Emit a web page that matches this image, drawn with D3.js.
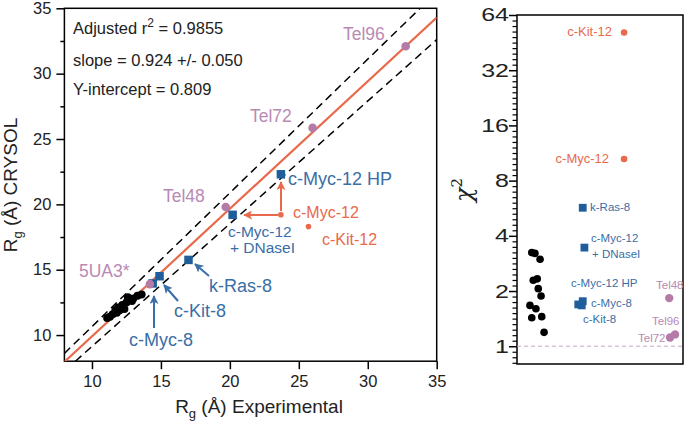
<!DOCTYPE html>
<html><head><meta charset="utf-8">
<script src="https://cdn.jsdelivr.net/npm/d3@7"></script>
<style>
html,body{margin:0;padding:0;background:#fff;}
svg{display:block;font-family:"Liberation Sans",Arial,sans-serif;}
</style></head>
<body>
<svg id="chart" width="693" height="422"></svg>
<script>
// ---------------- DATA ----------------
// Left panel: Rg experimental vs Rg CRYSOL (Å)
const xTicks = [10, 15, 20, 25, 30, 35];
const yTicks = [10, 15, 20, 25, 30, 35];
const yMinorTicks = [12.5, 17.5, 22.5, 27.5, 32.5];

const blackExp = [11.1, 11.3, 11.5, 11.7, 11.9, 12.0, 12.2, 12.35, 12.5, 12.7, 12.9, 13.0, 13.3, 13.6, 11.8, 12.6];
const blackCry = [11.3, 11.4, 11.6, 11.9, 12.1, 11.9, 12.3, 12.0, 12.5, 12.7, 12.6, 12.8, 13.0, 13.1, 11.7, 12.9];

const blueNames = ["c-Myc-8", "c-Kit-8", "k-Ras-8", "c-Myc-12 + DNaseI", "c-Myc-12 HP"];
const blueExp = [14.4, 14.9, 17.0, 20.2, 23.7];
const blueCry = [13.95, 14.5, 15.75, 19.2, 22.3];

const pinkNames = ["5UA3*", "Tel48", "Tel72", "Tel96"];
const pinkExp = [14.2, 19.7, 26.0, 32.75];
const pinkCry = [13.9, 19.8, 25.85, 32.1];

const redNames = ["c-Myc-12", "c-Kit-12"];
const redExp = [23.7, 25.7];
const redCry = [19.2, 18.3];

// fit line and bounds (endpoints, Å)
const fitLineX = [8, 35], fitLineY = [7.95, 34.3];
const upperX = [8, 33.8], upperY = [8.6, 35];
const lowerX = [8.8, 35], lowerY = [8, 32.6];

const statLines = ["Adjusted r", "slope = 0.924 +/- 0.050", "Y-intercept = 0.809"];

// Right panel: chi^2 (log2 scale)
const chiTicks = [1, 2, 4, 8, 16, 32, 64];
const blackChiPos = [0.89, 1.08, 1.39, 0.98, 1.22, 1.28, 1.45, 0.78, 1.14, 0.89, 1.49, 1.63];
const blackChi = [3.24, 3.21, 2.98, 2.29, 2.33, 2.06, 1.88, 1.67, 1.60, 1.43, 1.45, 1.19];
const blueChiNames = ["k-Ras-8", "c-Myc-12 + DNaseI", "c-Myc-12 HP", "c-Myc-8", "c-Kit-8"];
const blueChiPos = [3.96, 4.06, 3.96, 3.69, 3.90];
const blueChi = [5.69, 3.45, 1.76, 1.69, 1.67];
const redChiNames = ["c-Kit-12", "c-Myc-12"];
const redChiPos = [6.45, 6.45];
const redChi = [51.4, 10.5];
const pinkChiNames = ["Tel48", "Tel72", "Tel96"];
const pinkChiPos = [9.17, 9.22, 9.52];
const pinkChi = [1.83, 1.115, 1.16];

// ---------------- STYLE ----------------
const C = {
  blueFill: "#1f5e9b", blueText: "#3a6ea6",
  red: "#e8694b", pinkFill: "#b47ba7", pinkText: "#b98ab3",
  black: "#000", text: "#222"
};

const svg = d3.select("#chart");

// ---------------- LEFT PANEL ----------------
const L = {left: 64.4, right: 436.7, top: 8.3, bottom: 361.2};
const x = d3.scaleLinear().domain([8, 35]).range([L.left, L.right]);
const y = d3.scaleLinear().domain([8, 35]).range([L.bottom, L.top]);

svg.append("defs").append("clipPath").attr("id", "clipL")
  .append("rect").attr("x", L.left).attr("y", L.top)
  .attr("width", L.right - L.left).attr("height", L.bottom - L.top);

const gL = svg.append("g");

// axes
gL.append("g").attr("transform", `translate(0,${L.bottom})`)
  .call(d3.axisBottom(x).tickValues(xTicks).tickSize(8).tickPadding(6).tickFormat(d3.format("d")))
  .call(g => { g.select(".domain").remove(); g.selectAll("line").attr("stroke", "#000").attr("stroke-width", 1.5);
    g.selectAll("text").attr("font-size", 16.5).attr("fill", C.text).attr("font-family", "Liberation Sans, Arial"); });
gL.append("g").attr("transform", `translate(${L.left},0)`)
  .call(d3.axisLeft(y).tickValues(yTicks).tickSize(8).tickPadding(5).tickFormat(d3.format("d")))
  .call(g => { g.select(".domain").remove(); g.selectAll("line").attr("stroke", "#000").attr("stroke-width", 1.5);
    g.selectAll("text").attr("font-size", 16.5).attr("fill", C.text).attr("font-family", "Liberation Sans, Arial"); });
gL.append("g").attr("transform", `translate(${L.left},0)`)
  .call(d3.axisLeft(y).tickValues(yMinorTicks).tickSize(4).tickFormat(""))
  .call(g => { g.select(".domain").remove(); g.selectAll("line").attr("stroke", "#000").attr("stroke-width", 1.5); });

gL.append("rect").attr("x", L.left).attr("y", L.top)
  .attr("width", L.right - L.left).attr("height", L.bottom - L.top)
  .attr("fill", "none").attr("stroke", "#000").attr("stroke-width", 1.5);

const plotL = gL.append("g").attr("clip-path", "url(#clipL)");
const line = d3.line().x(d => x(d[0])).y(d => y(d[1]));
const pair = (xs, ys) => xs.map((v, i) => [v, ys[i]]);

plotL.append("path").datum(pair(upperX, upperY)).attr("d", line)
  .attr("stroke", "#000").attr("stroke-width", 1.5).attr("stroke-dasharray", "8,5").attr("fill", "none");
plotL.append("path").datum(pair(lowerX, lowerY)).attr("d", line)
  .attr("stroke", "#000").attr("stroke-width", 1.5).attr("stroke-dasharray", "8,5").attr("fill", "none");
plotL.append("path").datum(pair(fitLineX, fitLineY)).attr("d", line)
  .attr("stroke", C.red).attr("stroke-width", 2.2).attr("fill", "none");

// black points
plotL.selectAll(".blk").data(pair(blackExp, blackCry)).join("circle")
  .attr("cx", d => x(d[0])).attr("cy", d => y(d[1])).attr("r", 4).attr("fill", C.black);
// blue squares
const sq = 8.5;
plotL.selectAll(".blu").data(pair(blueExp, blueCry)).join("rect")
  .attr("x", d => x(d[0]) - sq / 2).attr("y", d => y(d[1]) - sq / 2)
  .attr("width", sq).attr("height", sq).attr("fill", C.blueFill);
// pink circles
plotL.selectAll(".pnk").data(pair(pinkExp, pinkCry)).join("circle")
  .attr("cx", d => x(d[0])).attr("cy", d => y(d[1])).attr("r", 4.3).attr("fill", C.pinkFill);
// red dots
plotL.selectAll(".red").data(pair(redExp, redCry)).join("circle")
  .attr("cx", d => x(d[0])).attr("cy", d => y(d[1])).attr("r", 2.8).attr("fill", C.red);

// arrow markers
const defs = svg.select("defs");
function marker(id, color) {
  defs.append("marker").attr("id", id).attr("viewBox", "0 0 10 10")
    .attr("refX", 9).attr("refY", 5).attr("markerUnits", "userSpaceOnUse")
    .attr("markerWidth", 9).attr("markerHeight", 9).attr("orient", "auto")
    .append("path").attr("d", "M0,0 L10,5 L0,10 L2.5,5 Z").attr("fill", color);
}
marker("arrB", C.blueText);
marker("arrR", C.red);

const arrows = [
  {from: [154, 328], to: [154, 296], c: "arrB", col: C.blueText},
  {from: [178, 301], to: [164, 285], c: "arrB", col: C.blueText},
  {from: [209, 276], to: [195, 264], c: "arrB", col: C.blueText},
  {from: [278, 215], to: [244, 215], c: "arrR", col: C.red},
  {from: [281, 211], to: [281, 182], c: "arrR", col: C.red}
];
gL.selectAll(".arr").data(arrows).join("line")
  .attr("x1", d => d.from[0]).attr("y1", d => d.from[1])
  .attr("x2", d => d.to[0]).attr("y2", d => d.to[1])
  .attr("stroke", d => d.col).attr("stroke-width", 2)
  .attr("marker-end", d => `url(#${d.c})`);

// labels in left panel
const leftLabels = [
  {t: "Tel96", x: 343, y: 40, c: C.pinkText, s: 17.5},
  {t: "Tel72", x: 250, y: 122, c: C.pinkText, s: 17.5},
  {t: "Tel48", x: 163, y: 202, c: C.pinkText, s: 17.5},
  {t: "5UA3*", x: 79, y: 277, c: C.pinkText, s: 17.5},
  {t: "c-Myc-12 HP", x: 288, y: 185, c: C.blueText, s: 18},
  {t: "c-Myc-12", x: 228, y: 237, c: C.blueText, s: 15.5},
  {t: "+ DNaseI", x: 230, y: 253, c: C.blueText, s: 15.5},
  {t: "k-Ras-8", x: 209, y: 292, c: C.blueText, s: 18},
  {t: "c-Kit-8", x: 174, y: 317, c: C.blueText, s: 18},
  {t: "c-Myc-8", x: 129, y: 346, c: C.blueText, s: 18},
  {t: "c-Myc-12", x: 293, y: 218, c: C.red, s: 16},
  {t: "c-Kit-12", x: 322, y: 245, c: C.red, s: 16}
];
gL.selectAll(".lbl").data(leftLabels).join("text")
  .attr("x", d => d.x).attr("y", d => d.y).attr("fill", d => d.c)
  .attr("font-size", d => d.s).text(d => d.t);

// stats text
const st = gL.append("g").attr("fill", C.text).attr("font-size", 16.5);
const t0 = st.append("text").attr("x", 73).attr("y", 34);
t0.append("tspan").text(statLines[0]);
t0.append("tspan").attr("dy", -7).attr("font-size", 12).text("2");
t0.append("tspan").attr("dy", 7).text(" = 0.9855");
st.append("text").attr("x", 73).attr("y", 66).text(statLines[1]);
st.append("text").attr("x", 73).attr("y", 95).text(statLines[2]);

// axis titles
const xt = svg.append("text").attr("x", 259).attr("y", 413).attr("text-anchor", "middle")
  .attr("font-size", 19).attr("fill", C.text);
xt.append("tspan").text("R");
xt.append("tspan").attr("dy", 5).attr("font-size", 13).text("g");
xt.append("tspan").attr("dy", -5).text(" (Å) Experimental");

const yt = svg.append("text").attr("transform", "translate(17,185) rotate(-90)")
  .attr("text-anchor", "middle").attr("font-size", 19).attr("fill", C.text);
yt.append("tspan").text("R");
yt.append("tspan").attr("dy", 5).attr("font-size", 13).text("g");
yt.append("tspan").attr("dy", -5).text(" (Å) CRYSOL");

// ---------------- RIGHT PANEL ----------------
const R = {left: 517, right: 683, top: 15, bottom: 364};
const xr = d3.scaleLinear().domain([0, 10]).range([R.left, R.right]);
const yr = d3.scaleLog().base(2).domain([0.8, 64]).range([R.bottom, R.top]);
const gR = svg.append("g");

// minor ticks (evenly spaced in log space, 10 subdivisions per doubling)
const minor = [];
for (let k = -4; k < 60; k++) {
  const v = Math.pow(2, k / 10);
  if (k % 10 !== 0 && v >= 0.8 && v <= 64) minor.push(v);
}
gR.append("g").attr("transform", `translate(${R.left},0)`)
  .call(d3.axisLeft(yr).tickValues(minor).tickSize(4.5).tickFormat(""))
  .call(g => { g.select(".domain").remove(); g.selectAll("line").attr("stroke", "#000").attr("stroke-width", 1.2); });
gR.append("g").attr("transform", `translate(${R.left},0)`)
  .call(d3.axisLeft(yr).tickValues(chiTicks).tickSize(8).tickFormat(""))
  .call(g => { g.select(".domain").remove(); g.selectAll("line").attr("stroke", "#000").attr("stroke-width", 1.5); });
gR.selectAll(".chit").data(chiTicks).join("text")
  .attr("transform", d => `translate(509,${yr(d)}) scale(1.35,1)`)
  .attr("text-anchor", "end").attr("dy", "0.35em").attr("font-size", 18.5).attr("fill", C.text)
  .text(d => d);

gR.append("rect").attr("x", R.left).attr("y", R.top)
  .attr("width", R.right - R.left).attr("height", R.bottom - R.top)
  .attr("fill", "none").attr("stroke", "#000").attr("stroke-width", 1.5);

// reference line chi2 = 1
gR.append("line").attr("x1", R.left).attr("x2", R.right).attr("y1", yr(1)).attr("y2", yr(1))
  .attr("stroke", "#c4aac4").attr("stroke-width", 1).attr("stroke-dasharray", "4,3");

gR.selectAll(".rb").data(pair(blackChiPos, blackChi)).join("circle")
  .attr("cx", d => xr(d[0])).attr("cy", d => yr(d[1])).attr("r", 3.8).attr("fill", C.black);
const sq2 = 7.8;
gR.selectAll(".rbl").data(pair(blueChiPos, blueChi)).join("rect")
  .attr("x", d => xr(d[0]) - sq2 / 2).attr("y", d => yr(d[1]) - sq2 / 2)
  .attr("width", sq2).attr("height", sq2).attr("fill", C.blueFill);
gR.selectAll(".rr").data(pair(redChiPos, redChi)).join("circle")
  .attr("cx", d => xr(d[0])).attr("cy", d => yr(d[1])).attr("r", 3.3).attr("fill", C.red);
gR.selectAll(".rp").data(pair(pinkChiPos, pinkChi)).join("circle")
  .attr("cx", d => xr(d[0])).attr("cy", d => yr(d[1])).attr("r", 4.2).attr("fill", C.pinkFill);

const rightLabels = [
  {t: "c-Kit-12", x: 612, y: 36, c: C.red, s: 13, a: "end"},
  {t: "c-Myc-12", x: 609, y: 163, c: C.red, s: 13, a: "end"},
  {t: "k-Ras-8", x: 590, y: 211, c: C.blueText, s: 11.5, a: "start"},
  {t: "c-Myc-12", x: 591, y: 242, c: C.blueText, s: 11.5, a: "start"},
  {t: "+ DNaseI", x: 592, y: 258, c: C.blueText, s: 11.5, a: "start"},
  {t: "c-Myc-12 HP", x: 571, y: 287, c: C.blueText, s: 11.5, a: "start"},
  {t: "c-Myc-8", x: 591, y: 307, c: C.blueText, s: 11.5, a: "start"},
  {t: "c-Kit-8", x: 583, y: 323, c: C.blueText, s: 11.5, a: "start"},
  {t: "Tel48", x: 656, y: 289, c: C.pinkText, s: 11.5, a: "start"},
  {t: "Tel96", x: 652, y: 325, c: C.pinkText, s: 11.5, a: "start"},
  {t: "Tel72", x: 638, y: 342, c: C.pinkText, s: 11.5, a: "start"}
];
gR.selectAll(".rl").data(rightLabels).join("text")
  .attr("x", d => d.x).attr("y", d => d.y).attr("fill", d => d.c)
  .attr("text-anchor", d => d.a).attr("font-size", d => d.s).text(d => d.t);

// chi^2 title
const ct = svg.append("text").attr("transform", "translate(472,190) rotate(-90)")
  .attr("text-anchor", "middle").attr("fill", C.text)
  .attr("font-family", "DejaVu Serif, serif").attr("font-style", "italic").attr("font-size", 24);
ct.append("tspan").text("χ");
ct.append("tspan").attr("dy", -10).attr("font-size", 15).attr("font-style", "normal").text("2");
</script>
</body></html>
